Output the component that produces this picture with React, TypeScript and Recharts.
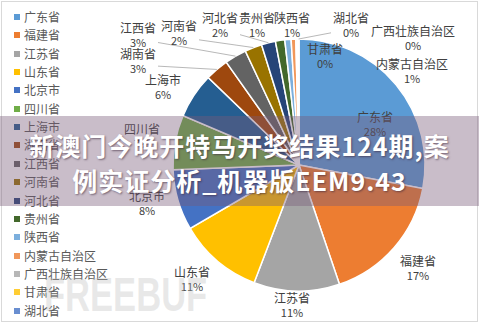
import React from 'react'
import { PieChart, Pie, Cell } from 'recharts'

const NAMES = ['广东省', '福建省', '江苏省', '山东省', '北京市', '四川省', '上海市', '湖南省', '江西省', '河南省', '河北省', '贵州省', '陕西省', '内蒙古自治区', '广西壮族自治区', '甘肃省', '湖北省']
const VALUES = [28.0, 16.8, 11.0, 10.8, 7.8, 7.0, 5.8, 3.0, 2.8, 2.2, 1.8, 1.2, 0.8, 0.6, 0.2, 0.1, 0.1]
const COLORS = ['#5B9BD5', '#ED7D31', '#A5A5A5', '#FFC000', '#4472C4', '#70AD47', '#255E91', '#9E480E', '#636363', '#997300', '#264478', '#43682B', '#7CAFDD', '#F1975A', '#B7B7B7', '#FFCD33', '#698ED0']

// where Excel's "best fit" put each data label, relative to the pie centre
const LABEL_POS: [number, number][] = [
  [76, -37], [119, 107], [-7, 144], [-107, 118], [-152, 42], [-157, -25], [-136, -74],
  [-161, -100], [-161, -126], [-120, -128], [-79, -136], [-42, -136], [-7, -136],
  [113, -90], [114, -123], [26, -105], [52, -136],
]
const LEADERS = [7, 8, 9, 10, 16]

const BANNER_LINES = ['新澳门今晚开特马开奖结果124期,案', '例实证分析_机器版EEM9.43']

const FONT = '"Noto Sans CJK SC", "Noto Sans", sans-serif'
const RAD = Math.PI / 180

const data = NAMES.map((name, i) => ({ name, value: VALUES[i] }))

function renderLabel(props: any) {
  const { cx, cy, midAngle, outerRadius, percent, index } = props
  const [dx, dy] = LABEL_POS[index]
  const lx = cx + dx
  const ly = cy + dy
  let line = null
  if (LEADERS.includes(index)) {
    const tx = cx + outerRadius * Math.cos(-midAngle * RAD)
    const ty = cy + outerRadius * Math.sin(-midAngle * RAD)
    // clip the line at the label box
    const vx = tx - lx
    const vy = ty - ly
    const t = Math.min(20 / Math.abs(vx || 1e-6), 13 / Math.abs(vy || 1e-6))
    const sx = lx + vx * t
    const sy = ly + vy * t
    line = <line x1={sx} y1={sy} x2={tx} y2={ty} stroke="#a6a6a6" strokeWidth={0.8} />
  }
  return (
    <g key={`lbl-${index}`}>
      {line}
      <text x={lx} y={ly - 12} textAnchor="middle" dominantBaseline="central" fontSize={12} fill="#404040" fontFamily={FONT}>
        {NAMES[index]}
      </text>
      <text x={lx} y={ly + 3} textAnchor="middle" dominantBaseline="central" fontSize={11} fill="#404040" fontFamily={FONT}>
        {Math.round(percent * 100)}%
      </text>
    </g>
  )
}

export default function App() {
  return (
    <div style={{ position: 'fixed', left: 0, top: 0, width: 479, height: 323, background: '#fff', overflow: 'hidden', fontFamily: FONT }}>
      <div style={{ position: 'absolute', left: 1, top: 1, width: 477, height: 321, boxSizing: 'border-box', border: '1px solid #d9d9d9' }} />

      <div style={{ position: 'absolute', left: 0, top: 0 }}>
        <PieChart width={479} height={323}>
          <Pie
            data={data}
            dataKey="value"
            nameKey="name"
            cx={294}
            cy={160}
            outerRadius={126}
            startAngle={90}
            endAngle={-270}
            stroke="#fff"
            strokeWidth={1.5}
            label={renderLabel}
            labelLine={false}
            isAnimationActive={false}
          >
            {data.map((d, i) => <Cell key={d.name} fill={COLORS[i]} />)}
          </Pie>
        </PieChart>
      </div>

      {NAMES.map((name, i) => (
        <div key={name} style={{ position: 'absolute', left: 14, top: 17 + i * 18.35 - 9, height: 18, display: 'flex', alignItems: 'center' }}>
          <span style={{ width: 6, height: 6, background: COLORS[i], display: 'inline-block', marginRight: 4 }} />
          <span style={{ fontSize: 12, color: '#595959', lineHeight: '18px' }}>{name}</span>
        </div>
      ))}

      <div style={{
        position: 'absolute', left: 44, top: 271, fontSize: 48, fontWeight: 700, lineHeight: '48px',
        fontFamily: '"Liberation Sans", Arial, sans-serif', color: 'rgba(190,190,190,0.35)',
        transform: 'scale(0.72, 1)', transformOrigin: 'left top', whiteSpace: 'nowrap',
      }}>
        FREEBUF
      </div>

      <div style={{
        position: 'absolute', left: 0, top: 116, width: 479, height: 90, background: 'rgba(120,90,120,0.4)',
        boxSizing: 'border-box', paddingTop: 12, textAlign: 'center',
      }}>
        {BANNER_LINES.map(t => (
          <div key={t} style={{
            fontSize: 25, fontWeight: 700, color: '#fff', lineHeight: '35px', letterSpacing: 1,
            whiteSpace: 'nowrap', textShadow: '1px 1px 2px rgba(60,40,60,0.6)',
          }}>{t}</div>
        ))}
      </div>
    </div>
  )
}
